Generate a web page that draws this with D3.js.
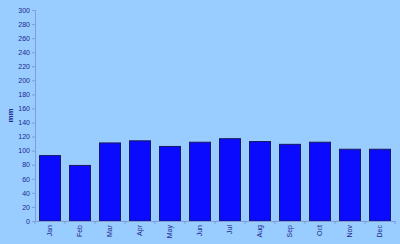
<!DOCTYPE html>
<html><head><meta charset="utf-8">
<script src="https://cdn.jsdelivr.net/npm/d3@7"></script>
<style>html,body{margin:0;padding:0;background:#99ccff;}svg{display:block;}</style>
</head><body>
<script>
const months = ["Jan","Feb","Mar","Apr","May","Jun","Jul","Aug","Sep","Oct","Nov","Dec"];
const rainfall = [93, 79, 111, 114, 106, 112, 117, 113, 109, 112, 102, 102];
const yTicks = [0,20,40,60,80,100,120,140,160,180,200,220,240,260,280,300];
const yLabel = "mm";

const W = 400, H = 244;
const m = {left: 35, right: 5, top: 10, bottom: 23};
const svg = d3.select("body").append("svg").attr("width", W).attr("height", H);
svg.append("rect").attr("width", W).attr("height", H).attr("fill", "#99ccff");

const x = d3.scaleBand().domain(months).range([m.left, W - m.right]).paddingInner(0.3).paddingOuter(0.15);
const y = d3.scaleLinear().domain([0, 300]).range([H - m.bottom, m.top]);

const axisColor = "#7f9fd6";
const textColor = "#1c2a8c";

svg.selectAll("rect.bar").data(rainfall).enter().append("rect")
  .attr("class", "bar")
  .attr("x", (d, i) => x(months[i]))
  .attr("y", d => y(d))
  .attr("width", x.bandwidth())
  .attr("height", d => y(0) - y(d))
  .attr("fill", "#0a0aff")
  .attr("stroke", "#1a1a60")
  .attr("stroke-width", 1);

const ya = svg.append("g").attr("transform", `translate(${m.left},0)`)
  .call(d3.axisLeft(y).tickValues(yTicks).tickSize(3).tickPadding(2));
ya.select(".domain").attr("stroke", axisColor);
ya.selectAll("line").attr("stroke", axisColor);
ya.selectAll("text").attr("fill", textColor).attr("font-family", "Liberation Sans, Arial, sans-serif").attr("font-size", 7);

const xa = svg.append("g").attr("transform", `translate(0,${y(0)})`)
  .call(d3.axisBottom(x).tickSize(0).tickSizeOuter(0));
xa.select(".domain").attr("stroke", axisColor);
xa.selectAll("text").attr("fill", textColor).attr("font-family", "Liberation Sans, Arial, sans-serif").attr("font-size", 7)
  .attr("transform", "rotate(-90)").attr("text-anchor", "end").attr("x", -4).attr("y", 0).attr("dy", "0.35em");

// boundary ticks between categories
const step = x.step();
const bounds = d3.range(months.length + 1).map(i => m.left + i * step);
svg.append("g").selectAll("line").data(bounds).enter().append("line")
  .attr("x1", d => d).attr("x2", d => d)
  .attr("y1", y(0)).attr("y2", y(0) + 3)
  .attr("stroke", axisColor);

svg.append("text")
  .attr("transform", `translate(13,${(m.top + H - m.bottom) / 2}) rotate(-90)`)
  .attr("text-anchor", "middle")
  .attr("fill", textColor)
  .attr("font-family", "Liberation Sans, Arial, sans-serif")
  .attr("font-size", 8).attr("font-weight", "bold")
  .text(yLabel);
</script>
</body></html>
